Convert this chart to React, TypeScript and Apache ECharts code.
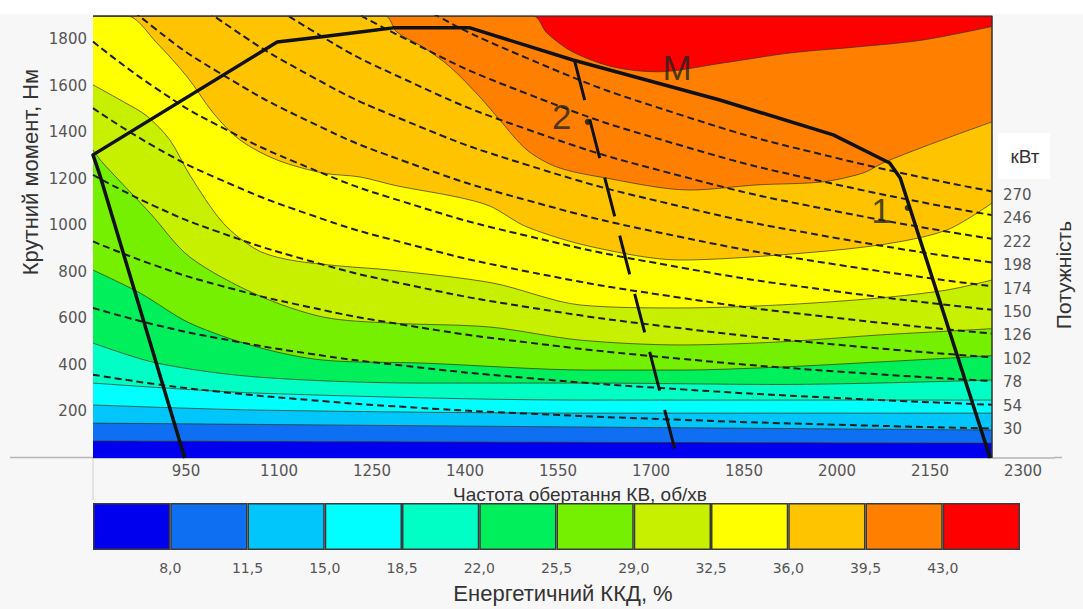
import React, { useEffect, useRef } from 'react';
import * as echarts from 'echarts';

// ---- axes ----
const rpmMin = 800;
const rpmMax = 2350;
const rpmStep = 150;
const torqueMin = 0;
const torqueMax = 1900;
const torqueStep = 200;

// ---- efficiency bands (colour bar) ----
const bandColors = ['#0000ee', '#0f6ff2', '#00c6fb', '#00ffff', '#00ffc4', '#00ef5a', '#74f000', '#c6f000', '#ffff00', '#ffc400', '#ff8000', '#ff0000'];
const levelLabels = ['8,0', '11,5', '15,0', '18,5', '22,0', '25,5', '29,0', '32,5', '36,0', '39,5', '43,0'];

// ---- iso-efficiency boundaries [rpm, torque] ----
const level80 = [[800, 73], [1500, 68], [2250, 64]];
const level115 = [[800, 150], [1602, 133], [2250, 120]];
const level150 = [[800, 228], [1065, 206], [1602, 193], [2250, 193]];
const level185 = [[800, 322], [1065, 279], [1602, 249], [2250, 249]];
const level220 = [[800, 494], [903, 408], [1065, 348], [1332, 322], [1602, 322], [1908, 316], [2250, 335]];
const level255 = [[800, 808], [876, 709], [956, 580], [1065, 477], [1171, 421], [1332, 408], [1602, 378], [1747, 378], [1908, 391], [2069, 413], [2250, 440]];
const level290 = [[800, 1324], [816, 1268], [892, 1053], [956, 864], [1065, 701], [1171, 606], [1279, 580], [1440, 563], [1585, 507], [1747, 486], [1908, 499], [2069, 529], [2177, 545], [2250, 556]];
const level325 = [[800, 1604], [850, 1530], [887, 1470], [924, 1367], [956, 1217], [1010, 1010], [1065, 894], [1118, 851], [1200, 825], [1279, 808], [1445, 752], [1585, 658], [1747, 645], [1908, 658], [2069, 688], [2177, 722], [2250, 765]];
const level360 = [[800, 1900], [855, 1900], [903, 1784], [952, 1638], [994, 1483], [1037, 1367], [1097, 1281], [1171, 1225], [1231, 1208], [1290, 1170], [1387, 1122], [1440, 1083], [1500, 993], [1606, 907], [1747, 851], [1908, 873], [2069, 916], [2177, 980], [2250, 1096]];
const level395 = [[800, 1900], [1271, 1900], [1290, 1831], [1332, 1767], [1376, 1681], [1424, 1552], [1456, 1453], [1500, 1324], [1548, 1251], [1618, 1208], [1763, 1152], [1871, 1174], [1977, 1187], [2042, 1225], [2074, 1268], [2139, 1337], [2250, 1445]];
const level430 = [[800, 1900], [1510, 1900], [1532, 1827], [1574, 1745], [1639, 1681], [1710, 1660], [1816, 1698], [1924, 1741], [2032, 1767], [2139, 1797], [2250, 1855]];
const levelCurves = [level80, level115, level150, level185, level220, level255, level290, level325, level360, level395, level430];

// ---- constant power lines (kW) ----
const powerLabels = ['30', '54', '78', '102', '126', '150', '174', '198', '222', '246', '270'];
const powerRpm = [800, 900, 1000, 1150, 1300, 1500, 1750, 2000, 2250];
const power30 = [358, 318, 286, 249, 220, 191, 164, 143, 127];
const power54 = [645, 573, 516, 448, 397, 344, 295, 258, 229];
const power78 = [931, 828, 745, 648, 573, 497, 426, 372, 331];
const power102 = [1217, 1082, 974, 847, 749, 649, 557, 487, 433];
const power126 = [1504, 1337, 1203, 1046, 926, 802, 688, 602, 535];
const power150 = [1790, 1592, 1432, 1246, 1102, 955, 818, 716, 637];
const power174 = [2077, 1846, 1662, 1445, 1278, 1108, 949, 831, 738];
const power198 = [2363, 2101, 1891, 1644, 1454, 1260, 1080, 945, 840];
const power222 = [2650, 2355, 2120, 1843, 1631, 1413, 1211, 1060, 942];
const power246 = [2936, 2610, 2349, 2043, 1807, 1566, 1342, 1175, 1044];
const power270 = [3223, 2865, 2578, 2242, 1983, 1719, 1473, 1289, 1146];
const powerCurves = [power30, power54, power78, power102, power126, power150, power174, power198, power222, power246, power270];

// ---- torque envelope M (with regulator branch 1) ----
const envelopeRpm = [948, 811, 800, 1097, 1166, 1231, 1284, 1408, 1574, 1811, 1994, 2085, 2102, 2247];
const envelopeTorque = [0, 1217, 1303, 1788, 1810, 1831, 1849, 1849, 1711, 1539, 1389, 1268, 1204, 0];

// ---- line 2 ----
const line2Rpm = [1577, 1742];
const line2Torque = [1705, 0];

// ---- annotations ----
const annotationNames = ['M', '2', '1'];
const annotationRpm = [1742, 1556, 2071];
const annotationTorque = [1677, 1466, 1066];
const dotRpm = [1598, 2114];
const dotTorque = [1445, 1075];

const TICK_FONT = "'DejaVu Sans', sans-serif";
const TITLE_FONT = "'Liberation Sans', Arial, sans-serif";

function buildOption() {
  const series: any[] = [];

  // top band background
  series.push({
    type: 'line', xAxisIndex: 0, yAxisIndex: 0, silent: true, symbol: 'none', z: 2,
    data: [[800, torqueMax], [2250, torqueMax]],
    lineStyle: { width: 0 },
    areaStyle: { color: bandColors[11], opacity: 1, origin: 'start' },
  });
  for (let i = levelCurves.length - 1; i >= 0; i--) {
    series.push({
      type: 'line', xAxisIndex: 0, yAxisIndex: 0, silent: true, symbol: 'none', z: 2,
      data: levelCurves[i], smooth: 0.3,
      lineStyle: { color: 'rgba(60,50,20,0.8)', width: 0.9 },
      areaStyle: { color: bandColors[i], opacity: 1, origin: 'start' },
    });
  }
  powerCurves.forEach((vals) => {
    series.push({
      type: 'line', xAxisIndex: 0, yAxisIndex: 0, silent: true, symbol: 'none', z: 3,
      data: powerRpm.map((n, k) => [n, vals[k]]), smooth: 0.5,
      lineStyle: { color: '#1e1e1e', width: 2, type: [7, 4] },
    });
  });
  // plot border (top/right)
  series.push({
    type: 'line', xAxisIndex: 0, yAxisIndex: 0, silent: true, symbol: 'none', z: 4,
    data: [[800, torqueMax], [2250, torqueMax], [2250, 0]],
    lineStyle: { color: '#333', width: 1.5 },
  });
  // envelope
  series.push({
    type: 'line', xAxisIndex: 0, yAxisIndex: 0, silent: true, symbol: 'none', z: 5,
    data: envelopeRpm.map((n, k) => [n, envelopeTorque[k]]),
    lineStyle: { color: '#111', width: 3.5, join: 'round' },
  });
  // line 2
  series.push({
    type: 'line', xAxisIndex: 0, yAxisIndex: 0, silent: true, symbol: 'none', z: 5,
    data: line2Rpm.map((n, k) => [n, line2Torque[k]]),
    lineStyle: { color: '#111', width: 3, type: [40, 20] },
  });
  // dots
  series.push({
    type: 'scatter', xAxisIndex: 0, yAxisIndex: 0, silent: true, z: 6,
    symbolSize: 6, itemStyle: { color: '#111' },
    data: dotRpm.map((n, k) => [n, dotTorque[k]]),
  });
  // text annotations
  series.push({
    type: 'scatter', xAxisIndex: 0, yAxisIndex: 0, silent: true, z: 6,
    symbolSize: 1, itemStyle: { color: 'rgba(0,0,0,0)' },
    data: annotationNames.map((name, k) => ({ name, value: [annotationRpm[k], annotationTorque[k]] })),
    label: {
      show: true, position: 'inside', formatter: (p: any) => p.name,
      fontFamily: TITLE_FONT, fontSize: 35, color: '#222',
    },
  });
  // colour bar
  bandColors.forEach((c) => {
    series.push({
      type: 'bar', xAxisIndex: 2, yAxisIndex: 2, stack: 'cb', silent: true,
      barWidth: '100%', data: [1],
      itemStyle: { color: c, borderColor: '#3a3a3a', borderWidth: 1.5 },
    });
  });

  return {
    animation: false,
    backgroundColor: '#f7f7f7',
    grid: [
      { left: 93, top: 16, width: 961, height: 442 },
      { left: 990, top: 183, width: 1, height: 258 },
      { left: 93, top: 503, width: 927, height: 47 },
    ],
    xAxis: [
      {
        type: 'value', gridIndex: 0, min: rpmMin, max: rpmMax, interval: rpmStep,
        axisLine: { show: true, lineStyle: { color: '#b5b5b5', width: 1.5 } },
        axisTick: { show: false }, splitLine: { show: false },
        axisLabel: {
          color: '#555', fontSize: 15, fontFamily: TICK_FONT, margin: 5,
          formatter: (v: number) => (v > rpmMin && v <= 2300 && (v - rpmMin) % rpmStep === 0 ? String(v) : ''),
        },
      },
      { type: 'value', gridIndex: 1, show: false, min: 0, max: 1 },
      {
        type: 'value', gridIndex: 2, min: 0, max: 12, interval: 1,
        axisLine: { show: false }, axisTick: { show: false }, splitLine: { show: false },
        axisLabel: {
          color: '#555', fontSize: 14, fontFamily: TICK_FONT, margin: 11,
          formatter: (v: number) => (v >= 1 && v <= 11 ? levelLabels[v - 1] : ''),
        },
      },
    ],
    yAxis: [
      {
        type: 'value', gridIndex: 0, min: torqueMin, max: torqueMax, interval: torqueStep,
        axisLine: { show: false }, axisTick: { show: false }, splitLine: { show: false },
        axisLabel: {
          color: '#555', fontSize: 15, fontFamily: TICK_FONT, margin: 6,
          formatter: (v: number) => (v > 0 && v < torqueMax && v % torqueStep === 0 ? String(v) : ''),
        },
      },
      {
        type: 'category', gridIndex: 1, position: 'right', data: powerLabels,
        axisLine: { show: false }, axisTick: { show: false }, splitLine: { show: false },
        axisLabel: { color: '#555', fontSize: 15, fontFamily: TICK_FONT, margin: 12 },
      },
      { type: 'category', gridIndex: 2, show: false, data: ['ККД'] },
    ],
    graphic: [
      { type: 'rect', left: 0, top: 0, shape: { width: 1083, height: 14 }, style: { fill: '#ffffff' }, z: -1 },
      { type: 'rect', left: 998, top: 133, shape: { width: 52, height: 46 }, style: { fill: '#ffffff' }, z: -1 },
      { type: 'line', shape: { x1: 10, y1: 457.5, x2: 93, y2: 457.5 }, style: { stroke: '#b5b5b5', lineWidth: 1.5 } },
      { type: 'line', shape: { x1: 1054, y1: 457.5, x2: 1062, y2: 457.5 }, style: { stroke: '#b5b5b5', lineWidth: 1.5 } },
      { type: 'line', shape: { x1: 93, y1: 458, x2: 93, y2: 500 }, style: { stroke: '#cfcfcf', lineWidth: 1 } },
      {
        type: 'text', x: 30, y: 172, rotation: Math.PI / 2,
        style: { text: 'Крутний момент, Нм', fontSize: 22, fontFamily: TITLE_FONT, fill: '#333', align: 'center', verticalAlign: 'middle' },
      },
      {
        type: 'text', x: 580, y: 494,
        style: { text: 'Частота обертання КВ, об/хв', fontSize: 19, fontFamily: TITLE_FONT, fill: '#333', align: 'center', verticalAlign: 'middle' },
      },
      {
        type: 'text', x: 563, y: 593,
        style: { text: 'Енергетичний ККД, %', fontSize: 22, fontFamily: TITLE_FONT, fill: '#333', align: 'center', verticalAlign: 'middle' },
      },
      {
        type: 'text', x: 1025, y: 156,
        style: { text: 'кВт', fontSize: 19, fontFamily: TITLE_FONT, fill: '#333', align: 'center', verticalAlign: 'middle' },
      },
      {
        type: 'text', x: 1063, y: 275, rotation: Math.PI / 2,
        style: { text: 'Потужність', fontSize: 21, fontFamily: TITLE_FONT, fill: '#333', align: 'center', verticalAlign: 'middle' },
      },
    ],
    series,
  };
}

export default function App() {
  const ref = useRef<HTMLDivElement>(null);
  useEffect(() => {
    const chart = echarts.init(ref.current!, null, { renderer: 'svg' });
    chart.setOption(buildOption() as any);
    return () => chart.dispose();
  }, []);
  return <div ref={ref} style={{ position: 'fixed', left: 0, top: 0, width: 1083, height: 609 }} />;
}
